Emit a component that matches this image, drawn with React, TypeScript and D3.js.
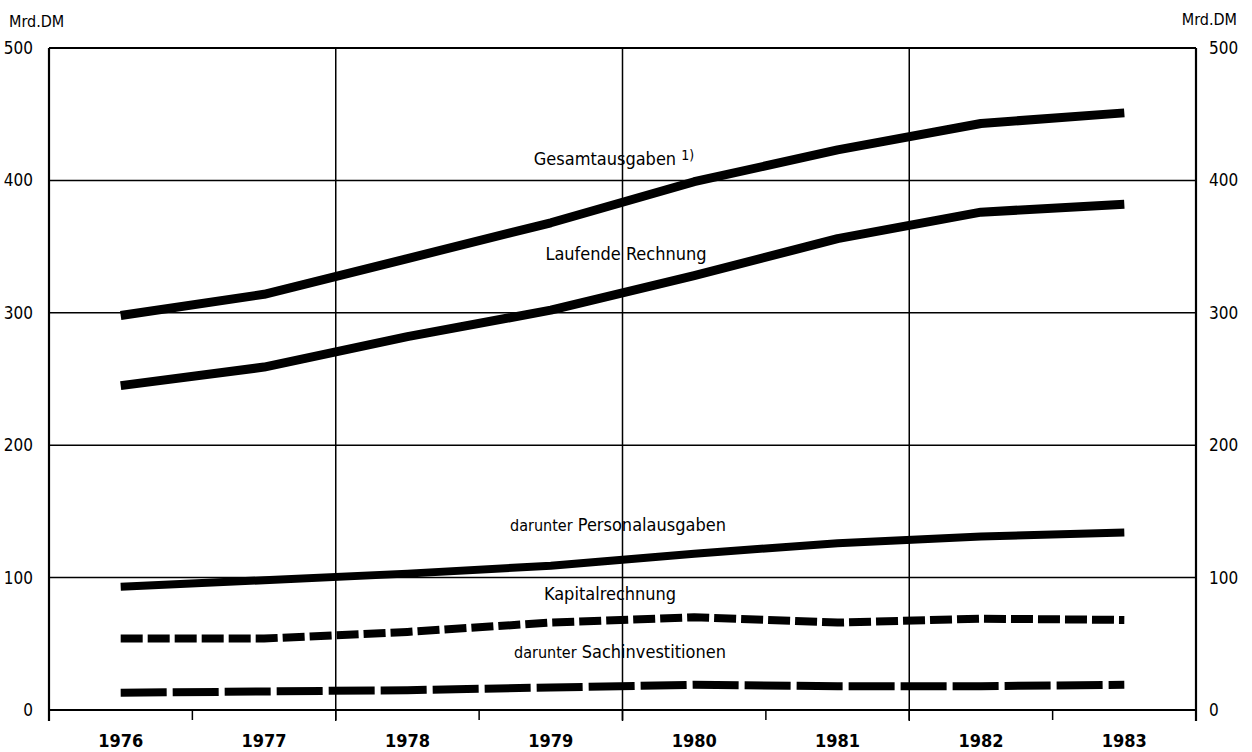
import React from "react";
import * as d3 from "d3";

// Öffentliche Ausgaben, Mrd. DM
const years = ["1976", "1977", "1978", "1979", "1980", "1981", "1982", "1983"];
const gesamtausgaben = [298, 314, 341, 368, 399, 423, 443, 451];
const laufendeRechnung = [245, 259, 282, 302, 328, 356, 376, 382];
const personalausgaben = [93, 98, 103, 109, 118, 126, 131, 134];
const kapitalrechnung = [54, 54, 59, 66, 70, 66, 69, 68];
const sachinvestitionen = [13, 14, 15, 17, 19, 18, 18, 19];
const yTicks = [0, 100, 200, 300, 400, 500];

const W = 1252;
const H = 752;
const FONT = "'DejaVu Sans Condensed', 'Liberation Sans Narrow', 'DejaVu Sans', sans-serif";

const left = 49;
const right = 1196;
const top = 48;
const bottom = 710;

const App: React.FC = () => {
  const x = d3.scaleBand<string>().domain(years).range([left, right]).padding(0);
  const y = d3.scaleLinear().domain([0, 500]).range([bottom, top]);
  const cx = (yr: string) => (x(yr) ?? 0) + x.bandwidth() / 2;

  const line = (vals: number[]) =>
    d3
      .line<number>()
      .x((_, i) => cx(years[i]))
      .y((d) => y(d))(vals) ?? "";

  // band boundaries: every boundary gets a tick, every other one a grid line
  const bounds = years.slice(1).map((yr) => x(yr) ?? 0);
  const gridX = bounds.filter((_, i) => i % 2 === 1);

  const series = [
    { vals: gesamtausgaben, dash: null, w: 9 },
    { vals: laufendeRechnung, dash: null, w: 9 },
    { vals: personalausgaben, dash: null, w: 8 },
    { vals: kapitalrechnung, dash: "22 5", w: 8 },
    { vals: sachinvestitionen, dash: "46 6", w: 8 },
  ];

  return (
    <svg width={W} height={H} style={{ position: "absolute", left: 0, top: 0, background: "#fff" }}>
      {/* horizontal grid */}
      {yTicks
        .filter((t) => t > 0 && t < 500)
        .map((t) => (
          <line key={t} x1={left} x2={right} y1={y(t)} y2={y(t)} stroke="#000" strokeWidth={1.5} />
        ))}
      {/* vertical grid */}
      {gridX.map((gx) => (
        <line key={gx} x1={gx} x2={gx} y1={top} y2={bottom + 11} stroke="#000" strokeWidth={1.5} />
      ))}
      {/* small ticks */}
      {bounds.map((bx) => (
        <line key={"t" + bx} x1={bx} x2={bx} y1={bottom} y2={bottom + 10} stroke="#000" strokeWidth={1.5} />
      ))}
      {/* frame */}
      <line x1={left} x2={right} y1={top} y2={top} stroke="#000" strokeWidth={2} />
      <line x1={left} x2={right} y1={bottom} y2={bottom} stroke="#000" strokeWidth={2.2} />
      <line x1={left} x2={left} y1={top} y2={bottom + 11} stroke="#000" strokeWidth={2.2} />
      <line x1={right} x2={right} y1={top} y2={bottom + 11} stroke="#000" strokeWidth={2.2} />

      {/* y labels */}
      {yTicks.map((t) => (
        <g key={"yl" + t} fontFamily={FONT} fontSize={17} fill="#000">
          <text x={33} y={y(t)} dy="0.35em" textAnchor="end">
            {t}
          </text>
          <text x={1209} y={y(t)} dy="0.35em" textAnchor="start">
            {t}
          </text>
        </g>
      ))}
      <text x={9} y={27} fontFamily={FONT} fontSize={16} fill="#000">
        Mrd.DM
      </text>
      <text x={1237} y={25} fontFamily={FONT} fontSize={16} fill="#000" textAnchor="end">
        Mrd.DM
      </text>

      {/* x labels */}
      {years.map((yr) => (
        <text
          key={yr}
          x={cx(yr)}
          y={747}
          textAnchor="middle"
          fontFamily={FONT}
          fontWeight="bold"
          fontSize={18}
          fill="#000"
        >
          {yr}
        </text>
      ))}

      {/* series */}
      {series.map((s, i) => (
        <path
          key={i}
          d={line(s.vals)}
          fill="none"
          stroke="#000"
          strokeWidth={s.w}
          strokeDasharray={s.dash ?? undefined}
          strokeLinejoin="round"
          strokeLinecap="butt"
        />
      ))}

      {/* series labels */}
      <g fontFamily={FONT} fontSize={18} fill="#000" textAnchor="middle">
        <text x={614} y={165}>
          Gesamtausgaben <tspan fontSize={14} dy={-5}>1)</tspan>
        </text>
        <text x={626} y={260}>Laufende Rechnung</text>
        <text x={618} y={531}>
          <tspan fontSize={16}>darunter</tspan>  Personalausgaben
        </text>
        <text x={610} y={600}>Kapitalrechnung</text>
        <text x={620} y={658}>
          <tspan fontSize={16}>darunter</tspan>  Sachinvestitionen
        </text>
      </g>
    </svg>
  );
};

export default App;
